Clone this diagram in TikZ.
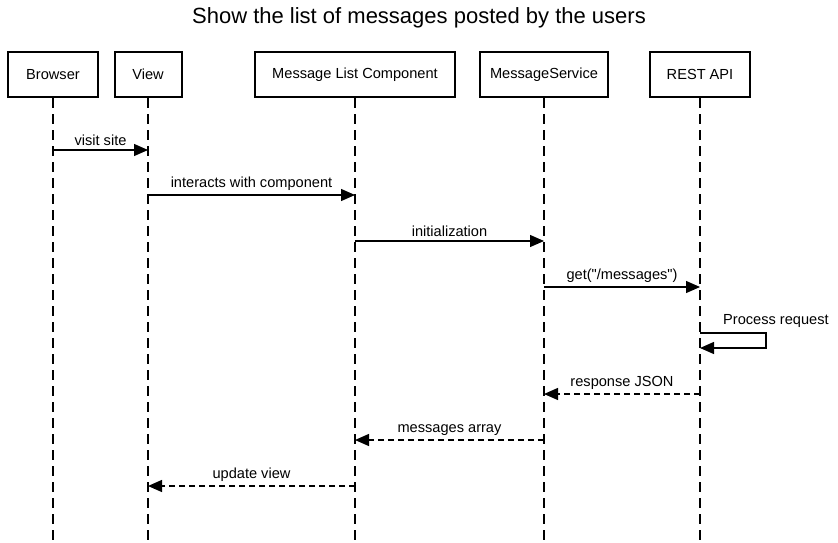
\documentclass[tikz,border=0pt]{standalone}
\usepackage{fontspec}
\setmainfont{Liberation Sans}[Ligatures=TeXOff]
\usetikzlibrary{arrows.meta}

\tikzset{
    actor/.style={draw, line width=2pt, minimum height=45pt, inner sep=0pt, font=\fontsize{14.6}{17}\selectfont},
    lifeline/.style={dash pattern=on 10pt off 6pt, line width=1.3pt},
    msg/.style={-{Triangle[length=14pt,width=12pt]}, line width=1.3pt},
    reply/.style={msg, dash pattern=on 6pt off 4pt},
    msglabel/.style={font=\fontsize{14.6}{17}\selectfont, inner sep=0pt}
}

\begin{document}
\begin{tikzpicture}[x=1pt, y=-1pt]
    \useasboundingbox (0,0) rectangle (838,543);
    \node[font=\fontsize{22}{26}\selectfont] (title) at (419,18) {Show the list of messages posted by the users};

    \foreach \name/\x/\w/\txt in {browser/53/90/Browser, view/148/67/View,
            mlc/355/200/Message List Component, service/544/128/MessageService,
            rest/700/100/REST API} {
        \node[actor, minimum width=\w pt] (\name) at (\x,74.5) {\txt};
        \coordinate (\name end) at (\x,543);
        \draw[lifeline] (\name.south) -- (\name end);
    }

    \draw[msg] (53,150) -- node[msglabel, above=4pt] {visit site} (148,150);
    \draw[msg] (148,195) -- node[msglabel, above=4pt] {interacts with component} (355,195);
    \draw[msg] (355,241) -- node[msglabel, above=4pt] {initialization} (544,241);
    \draw[msg] (544,287) -- node[msglabel, above=4pt] {get("/messages")} (700,287);
    \draw[msg] (700,333) -- (766,333) -- (766,348) -- (700,348);
    \node[msglabel, anchor=west] (process) at (723,321) {Process request};
    \draw[reply] (700,394) -- node[msglabel, above=4pt] {response JSON} (544,394);
    \draw[reply] (544,440) -- node[msglabel, above=4pt] {messages array} (355,440);
    \draw[reply] (355,486) -- node[msglabel, above=4pt] {update view} (148,486);
\end{tikzpicture}
\end{document}
